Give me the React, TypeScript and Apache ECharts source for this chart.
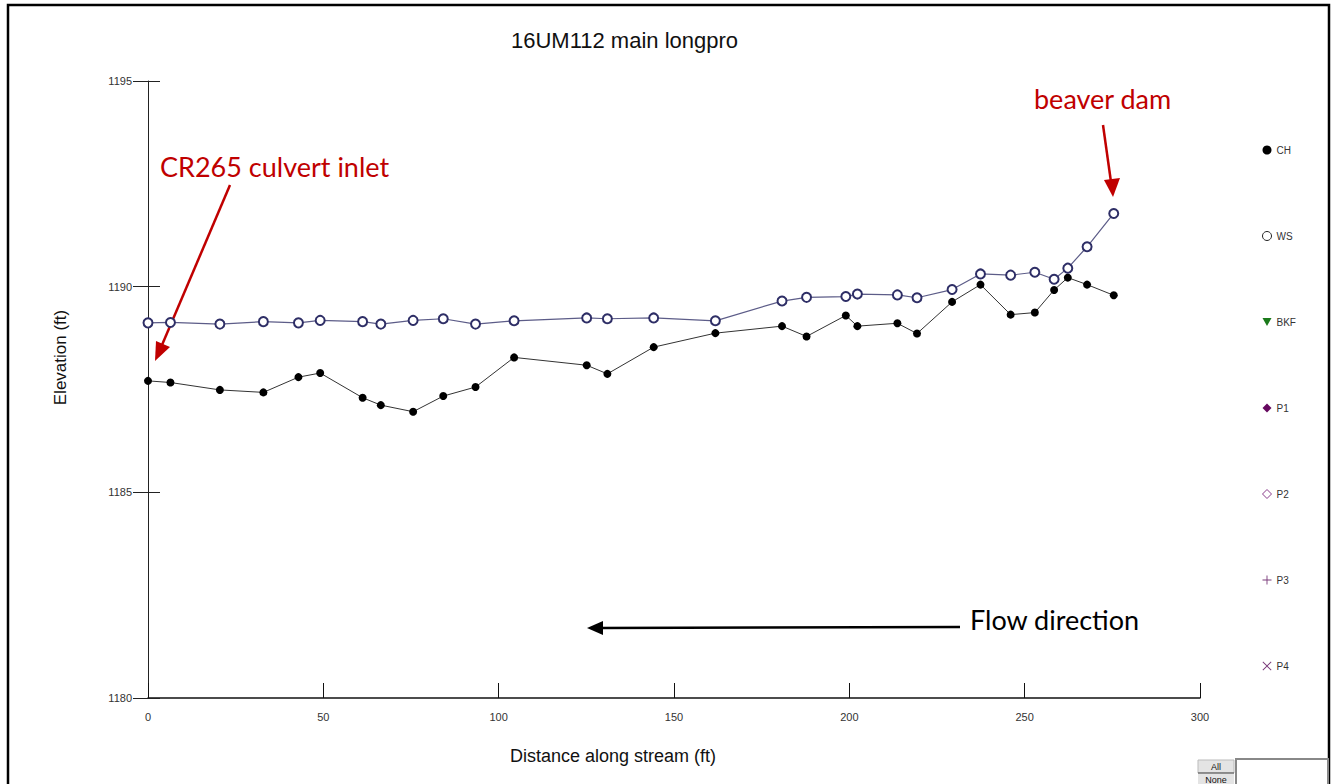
import React, { useEffect, useRef } from "react";
import * as echarts from "echarts";

const titleText = "16UM112 main longpro";
const xAxisName = "Distance along stream (ft)";
const yAxisName = "Elevation (ft)";

const distance = [
  0, 6.4, 20.5, 32.9, 42.9, 49.1, 61.2, 66.4, 75.6, 84.2, 93.4, 104.4, 125.1, 131.0, 144.2,
  161.8, 180.8, 187.8, 199.0, 202.3, 213.7, 219.3, 229.3, 237.4, 246.0, 252.9, 258.4, 262.3,
  267.8, 275.4,
];
const chElev = [
  1187.71, 1187.67, 1187.49, 1187.43, 1187.8, 1187.9, 1187.3, 1187.12, 1186.96, 1187.34, 1187.56,
  1188.28, 1188.09, 1187.88, 1188.53, 1188.87, 1189.04, 1188.79, 1189.3, 1189.04, 1189.11,
  1188.86, 1189.63, 1190.05, 1189.32, 1189.37, 1189.92, 1190.22, 1190.05, 1189.79,
];
const wsElev = [
  1189.12, 1189.13, 1189.09, 1189.15, 1189.12, 1189.18, 1189.15, 1189.09, 1189.18, 1189.22,
  1189.09, 1189.17, 1189.24, 1189.22, 1189.24, 1189.17, 1189.65, 1189.74, 1189.76, 1189.82,
  1189.8, 1189.73, 1189.93, 1190.31, 1190.28, 1190.35, 1190.18, 1190.45, 1190.97, 1191.78,
];
const legendNames = ["CH", "WS", "BKF", "P1", "P2", "P3", "P4"];
const xTicks = { min: 0, max: 300, interval: 50 };
const yTicks = { min: 1180, max: 1195, interval: 5 };

const annotations = {
  culvert: "CR265 culvert inlet",
  beaver: "beaver dam",
  flow: "Flow direction",
};

const FONT = "'Liberation Sans', Arial, sans-serif";
const ANNO_FONT = "27px Lato, 'Open Sans', sans-serif";
const RED = "#c00000";

export default function App() {
  const ref = useRef<HTMLDivElement>(null);
  useEffect(() => {
    if (!ref.current) return;
    const chart = echarts.init(ref.current, null, { renderer: "svg" });
    const pairs = (ys: number[]) => distance.map((x, i) => [x, ys[i]]);

    const legendIcons: Record<string, any> = {
      CH: { icon: "circle", itemStyle: { color: "#000", borderWidth: 0 } },
      WS: { icon: "circle", itemStyle: { color: "#fff", borderColor: "#222", borderWidth: 1 } },
      BKF: { icon: "path://M0,0L10,0L5,9Z", itemStyle: { color: "#1b7a1b", borderWidth: 0 } },
      P1: { icon: "diamond", itemStyle: { color: "#66085f", borderWidth: 0 } },
      P2: { icon: "diamond", itemStyle: { color: "#fff", borderColor: "#8a3a8a", borderWidth: 1 } },
      P3: { icon: "path://M4.5,0H5.5V4.5H10V5.5H5.5V10H4.5V5.5H0V4.5H4.5Z", itemStyle: { color: "#7a3a7a", borderWidth: 0 } },
      P4: { icon: "path://M0.7,0L5,4.3L9.3,0L10,0.7L5.7,5L10,9.3L9.3,10L5,5.7L0.7,10L0,9.3L4.3,5L0,0.7Z", itemStyle: { color: "#7a3a7a", borderWidth: 0 } },
    };

    const emptySeries = legendNames.slice(2).map((n) => ({
      name: n,
      type: "line",
      data: [] as number[][],
    }));

    chart.setOption({
      animation: false,
      backgroundColor: "#fff",
      title: {
        text: titleText,
        left: 511,
        top: 29,
        padding: 0,
        textStyle: { fontFamily: FONT, fontSize: 22, fontWeight: "normal", color: "#111" },
      },
      legend: {
        orient: "vertical",
        left: 1257,
        top: 139,
        itemWidth: 9,
        itemHeight: 9,
        itemGap: 74,
        textStyle: { fontFamily: FONT, fontSize: 10, color: "#333", lineHeight: 12 },
        selectedMode: false,
        data: legendNames.map((n) => ({ name: n, ...legendIcons[n] })),
      },
      grid: { left: 148, top: 81, width: 1052, height: 617, containLabel: false },
      xAxis: {
        type: "value",
        min: xTicks.min,
        max: xTicks.max,
        interval: xTicks.interval,
        name: xAxisName,
        nameLocation: "middle",
        nameGap: 49,
        nameTextStyle: { fontFamily: FONT, fontSize: 18, color: "#111", padding: [0, 122, 0, 0] },
        axisLine: { show: true, lineStyle: { color: "#111", width: 1.5 } },
        axisTick: { show: true, inside: true, length: 15, lineStyle: { color: "#111" } },
        axisLabel: { margin: 13, fontFamily: FONT, fontSize: 11, color: "#333" },
        splitLine: { show: false },
      },
      yAxis: [
        {
          type: "value",
          min: yTicks.min,
          max: yTicks.max,
          interval: yTicks.interval,
          name: yAxisName,
          nameLocation: "middle",
          nameGap: 79,
          nameTextStyle: { fontFamily: FONT, fontSize: 17, color: "#111", padding: [0, 0, 0, 64] },
          axisLine: { show: true, lineStyle: { color: "#222", width: 1 } },
          axisTick: { show: true, inside: false, length: 15, lineStyle: { color: "#222" } },
          axisLabel: {
            margin: 16,
            fontFamily: FONT,
            fontSize: 11,
            color: "#333",
            formatter: (v: number) => String(v),
          },
          splitLine: { show: false },
        },
        {
          type: "value",
          min: yTicks.min,
          max: yTicks.max,
          interval: yTicks.interval,
          position: "left",
          axisLine: { show: false },
          axisTick: { show: true, inside: true, length: 12, lineStyle: { color: "#222" } },
          axisLabel: { show: false },
          splitLine: { show: false },
        },
      ],
      series: [
        {
          name: "CH",
          type: "line",
          data: pairs(chElev),
          symbol: "circle",
          symbolSize: 8,
          itemStyle: { color: "#000" },
          lineStyle: { color: "#333", width: 1 },
          z: 3,
        },
        {
          name: "WS",
          type: "line",
          data: pairs(wsElev),
          symbol: "emptyCircle",
          symbolSize: 9,
          itemStyle: { color: "#2e2e66", borderWidth: 0.8 },
          lineStyle: { color: "#5c5c88", width: 1.2 },
          z: 4,
        },
        ...emptySeries,
      ],
      graphic: [
        // outer frame
        { type: "rect", shape: { x: 8, y: 5, width: 1321, height: 800 }, style: { fill: "none", stroke: "#000", lineWidth: 2.5 }, silent: true },
        // annotations
        { type: "text", x: 160, y: 166, style: { text: annotations.culvert, font: ANNO_FONT, fill: RED, verticalAlign: "middle" } },
        { type: "line", shape: { x1: 230, y1: 185, x2: 162, y2: 345 }, style: { stroke: RED, lineWidth: 2.5 } },
        { type: "polygon", shape: { points: [[155, 361], [156, 341], [170, 347]] }, style: { fill: RED } },
        { type: "text", x: 1034, y: 98, style: { text: annotations.beaver, font: ANNO_FONT, fill: RED, verticalAlign: "middle" } },
        { type: "line", shape: { x1: 1103, y1: 125, x2: 1111, y2: 182 }, style: { stroke: RED, lineWidth: 2.5 } },
        { type: "polygon", shape: { points: [[1113, 197], [1104, 180], [1120, 178]] }, style: { fill: RED } },
        { type: "text", x: 970, y: 619, style: { text: annotations.flow, font: ANNO_FONT, fill: "#000", verticalAlign: "middle" } },
        { type: "line", shape: { x1: 960, y1: 627, x2: 600, y2: 628 }, style: { stroke: "#000", lineWidth: 2.5 } },
        { type: "polygon", shape: { points: [[587, 628], [603, 621], [603, 635]] }, style: { fill: "#000" } },
        // bottom-right controls
        { type: "rect", shape: { x: 1198, y: 760, width: 36, height: 13 }, style: { fill: "#e4e4e4", stroke: "#bbb", lineWidth: 1 } },
        { type: "text", x: 1216, y: 766.5, style: { text: "All", font: "9px " + FONT, fill: "#111", align: "center", verticalAlign: "middle" } },
        { type: "line", shape: { x1: 1198, y1: 773, x2: 1234, y2: 773 }, style: { stroke: "#444", lineWidth: 1 } },
        { type: "rect", shape: { x: 1198, y: 774, width: 36, height: 12 }, style: { fill: "#e4e4e4" } },
        { type: "text", x: 1216, y: 780, style: { text: "None", font: "9px " + FONT, fill: "#111", align: "center", verticalAlign: "middle" } },
        { type: "rect", shape: { x: 1236, y: 759, width: 92, height: 30 }, style: { fill: "#fff", stroke: "#888", lineWidth: 2 } },
      ],
    });
    return () => chart.dispose();
  }, []);
  return (
    <div
      ref={ref}
      style={{ position: "fixed", left: 0, top: 0, width: 1335, height: 784, background: "#fff" }}
    />
  );
}
